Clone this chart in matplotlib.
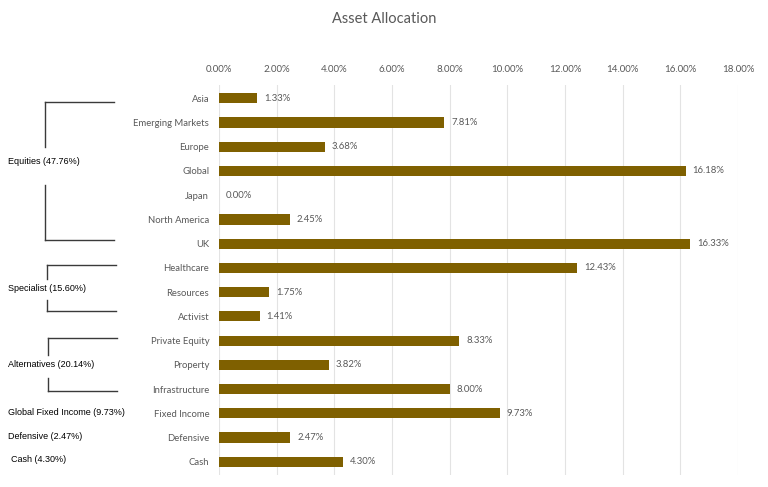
import matplotlib
matplotlib.use("Agg")
import matplotlib.pyplot as plt
from matplotlib.lines import Line2D
import matplotlib.transforms as mtransforms

categories = ["Asia", "Emerging Markets", "Europe", "Global", "Japan", "North America", "UK",
              "Healthcare", "Resources", "Activist", "Private Equity", "Property", "Infrastructure",
              "Fixed Income", "Defensive", "Cash"]
values = [1.33, 7.81, 3.68, 16.18, 0.00, 2.45, 16.33,
          12.43, 1.75, 1.41, 8.33, 3.82, 8.00,
          9.73, 2.47, 4.30]
ticks = [0, 2, 4, 6, 8, 10, 12, 14, 16, 18]

groups = ["Equities (47.76%)", "Specialist (15.60%)", "Alternatives (20.14%)",
          "Global Fixed Income (9.73%)", "Defensive (2.47%)", "Cash (4.30%)"]
group_first = ["Asia", "Healthcare", "Private Equity", "Fixed Income", "Defensive", "Cash"]
group_last = ["UK", "Activist", "Infrastructure", "Fixed Income", "Defensive", "Cash"]

# bracket layout (offsets in category units, x in figure fraction)
top_off = [0.15, -0.12, -0.10, 0, 0, 0]
bot_off = [-0.15, -0.22, 0.07, 0, 0, 0]
txt_off = [-0.38, -0.13, -0.03, -0.05, -0.05, -0.08]
gap_up = [0.62, 0.41, 0.38, 0, 0, 0]
gap_dn = [0.94, 0.45, 0.57, 0, 0, 0]
x_vert = [0.058, 0.061, 0.063, 0, 0, 0]
x_horz = [0.149, 0.151, 0.152, 0, 0, 0]
x_text = [0.011, 0.011, 0.011, 0.011, 0.011, 0.014]

BAR = "#7F6000"
GRAY = "#595959"
CAT_FONT = ["Lato", "DejaVu Sans"]
GRP_FONT = ["Liberation Sans", "DejaVu Sans"]

fig = plt.figure(figsize=(7.68, 4.87), dpi=100)
ax = fig.add_axes([0.285, 0.025, 0.676, 0.80])

y = list(range(len(categories)))
ax.barh(y, values, height=0.42, color=BAR, zorder=3)
ax.set_xlim(0, 18)
ax.set_ylim(len(categories) - 0.46, -0.54)
ax.set_xticks(ticks)
ax.set_xticklabels([f"{t:.2f}%" for t in ticks], fontsize=7.0, color=GRAY, family=CAT_FONT)
ax.xaxis.tick_top()
ax.tick_params(axis="x", length=0, pad=8)
ax.set_yticks(y)
ax.set_yticklabels(categories, fontsize=6.8, color=GRAY, family=CAT_FONT)
ax.tick_params(axis="y", length=0, pad=7)
ax.grid(axis="x", color="#E3E3E3", linewidth=0.8, zorder=0)
for s in ax.spines.values():
    s.set_visible(False)

for yi, v in zip(y, values):
    ax.annotate(f"{v:.2f}%", (v, yi), xytext=(5, 0), textcoords="offset points",
                va="center", ha="left", fontsize=6.8, color=GRAY, family=CAT_FONT)

fig.text(0.5, 0.962, "Asset Allocation", ha="center", va="center", fontsize=10.5,
         color=GRAY, family=CAT_FONT)

# group brackets: x in figure coords, y in data coords
trans = mtransforms.blended_transform_factory(fig.transFigure, ax.transData)
for k, (name, f, l) in enumerate(zip(groups, group_first, group_last)):
    i0 = categories.index(f)
    i1 = categories.index(l)
    mid = (i0 + i1) / 2 + txt_off[k]
    if i1 > i0:
        t = i0 + top_off[k]
        b = i1 + bot_off[k]
        xv, xh = x_vert[k], x_horz[k]
        lines = [
            ([xv, xh], [t, t]),
            ([xv, xv], [t, mid - gap_up[k]]),
            ([xv, xv], [mid + gap_dn[k], b]),
            ([xv, xh], [b, b]),
        ]
        for xs, ys in lines:
            fig.add_artist(Line2D(xs, ys, transform=trans, color="#3A3A3A", linewidth=1.0,
                                  clip_on=False))
    fig.text(x_text[k], mid, name, transform=trans, ha="left", va="center", fontsize=6.5,
             color="black", family=GRP_FONT)

fig.savefig("out.png", dpi=100)
